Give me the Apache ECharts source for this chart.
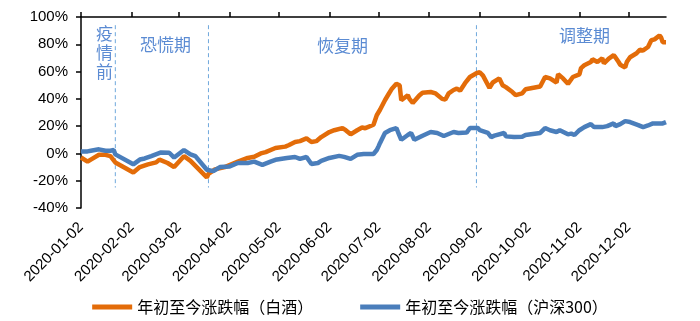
<!DOCTYPE html>
<html><head><meta charset="utf-8">
<script src="https://cdn.jsdelivr.net/npm/echarts/dist/echarts.min.js"></script>
<style>html,body{margin:0;padding:0;background:#fff}#c{width:700px;height:321px}</style>
</head><body><div id="c"></div><script>
// ---- data ----
var tickLabels = ['2020-01-02','2020-02-02','2020-03-02','2020-04-02','2020-05-02','2020-06-02',
  '2020-07-02','2020-08-02','2020-09-02','2020-10-02','2020-11-02','2020-12-02'];
var axisStart = '2020-01-02', axisEnd = '2020-12-25';

var baijiuName = '年初至今涨跌幅（白酒）';
var baijiuDates = ['2020-01-02','2020-01-06','2020-01-08','2020-01-13','2020-01-17','2020-01-20','2020-01-23',
 '2020-02-03','2020-02-07','2020-02-12','2020-02-17','2020-02-19','2020-02-24','2020-02-28',
 '2020-03-05','2020-03-09','2020-03-10','2020-03-19','2020-03-20','2020-03-24','2020-03-30',
 '2020-04-07','2020-04-13','2020-04-17','2020-04-21','2020-04-24','2020-04-30',
 '2020-05-06','2020-05-08','2020-05-12','2020-05-15','2020-05-19','2020-05-22','2020-05-25','2020-05-28',
 '2020-06-02','2020-06-05','2020-06-10','2020-06-12','2020-06-15','2020-06-19','2020-06-22','2020-06-24','2020-06-29','2020-06-30',
 '2020-07-01','2020-07-03','2020-07-06','2020-07-08','2020-07-10','2020-07-13','2020-07-14','2020-07-15','2020-07-16','2020-07-17',
 '2020-07-20','2020-07-21','2020-07-23','2020-07-27','2020-07-29',
 '2020-08-03','2020-08-06','2020-08-10','2020-08-12','2020-08-13','2020-08-14','2020-08-17','2020-08-19','2020-08-21','2020-08-24','2020-08-27','2020-08-31',
 '2020-09-02','2020-09-04','2020-09-08','2020-09-10','2020-09-14','2020-09-16','2020-09-18','2020-09-22','2020-09-24','2020-09-28','2020-09-30',
 '2020-10-09','2020-10-12','2020-10-13','2020-10-15','2020-10-16','2020-10-19','2020-10-20','2020-10-23','2020-10-26','2020-10-29','2020-10-30',
 '2020-11-02','2020-11-03','2020-11-05','2020-11-09','2020-11-10','2020-11-13','2020-11-16','2020-11-17','2020-11-20','2020-11-23','2020-11-24','2020-11-26','2020-11-27','2020-11-30',
 '2020-12-01','2020-12-03','2020-12-07','2020-12-09','2020-12-11','2020-12-14','2020-12-16','2020-12-18','2020-12-21','2020-12-22','2020-12-23','2020-12-24','2020-12-25'];
var baijiuValues = [-3,-6,-4.5,-1,-1,-2,-6.6,
 -14,-10,-8,-6.6,-4.5,-7,-10,
 -2,-5.5,-4.5,-17.6,-15,-11.7,-10,
 -6,-3.3,-2.5,0,1,4,
 5,6,8.4,9,11,8.4,9,12,
 15.7,17,18.6,17,14,17,19,18.5,21,21,
 28,32,39,43,47,51,52,50,39,39.5,
 42.7,40,37,42.5,44.5,
 45,44,40,39.5,40.5,44,46.5,47.5,46,51.5,56,58.8,
 59.5,57,48,52,55,50,48.6,45,42.7,44,47,
 49,56,57,55,53.7,52,58,55,51,56,56.5,
 58,62.5,64.6,67,69,67,69.8,66,69.5,72,70.5,67,65,63,
 67,70.5,73.4,76,75.5,78,83,83.6,86.5,85,81.5,82,81.5];

var hs300Name = '年初至今涨跌幅（沪深300）';
var hs300Dates = ['2020-01-02','2020-01-06','2020-01-08','2020-01-13','2020-01-17','2020-01-20','2020-01-22','2020-01-23',
 '2020-02-03','2020-02-07','2020-02-10','2020-02-14','2020-02-20','2020-02-25','2020-02-28',
 '2020-03-05','2020-03-09','2020-03-12','2020-03-19','2020-03-23','2020-03-27',
 '2020-04-02','2020-04-07','2020-04-13','2020-04-17','2020-04-22','2020-04-27','2020-04-30',
 '2020-05-07','2020-05-12','2020-05-15','2020-05-19','2020-05-22','2020-05-26','2020-05-28',
 '2020-06-02','2020-06-08','2020-06-11','2020-06-15','2020-06-19','2020-06-23','2020-06-29','2020-06-30',
 '2020-07-01','2020-07-02','2020-07-03','2020-07-06','2020-07-09','2020-07-13','2020-07-14','2020-07-16','2020-07-20','2020-07-22','2020-07-24','2020-07-29',
 '2020-08-03','2020-08-07','2020-08-11','2020-08-17','2020-08-20','2020-08-25','2020-08-27',
 '2020-09-01','2020-09-02','2020-09-07','2020-09-09','2020-09-11','2020-09-17','2020-09-18','2020-09-23','2020-09-28','2020-09-30',
 '2020-10-09','2020-10-12','2020-10-15','2020-10-19','2020-10-21','2020-10-26','2020-10-28','2020-10-30',
 '2020-11-02','2020-11-05','2020-11-09','2020-11-11','2020-11-16','2020-11-19','2020-11-23','2020-11-24','2020-11-27','2020-11-30',
 '2020-12-03','2020-12-08','2020-12-11','2020-12-14','2020-12-17','2020-12-21','2020-12-22','2020-12-23','2020-12-25'];
var hs300Values = [1.5,1.5,2,3,2,2,2.5,-0.7,
 -8,-4.5,-3.7,-2,0.7,0.5,-3,
 2.5,-0.7,-2,-12,-13,-10,
 -9.5,-7,-7,-6,-8.4,-6,-4.7,
 -3.3,-2.6,-4,-2.6,-7.7,-7,-5.5,
 -3.3,-1.8,-2.5,-4,-1,-0.4,-0.4,-1,
 2.5,5,7.7,15,17,18.6,15.7,10,13.5,15,10,13,
 15.7,15,12.8,15.7,15,15.3,18.6,
 18.6,17,15,12,13,15,12.5,12,12.3,13.5,
 15,18.6,17,15.7,17,14,14.5,13.5,
 17,19.3,21.5,19.3,19.3,20,22,20,21.5,23.7,
 23,20.8,19.3,20.5,22,22,20.8,22,23];

var phaseDates = ['2020-01-23','2020-03-20','2020-08-31'];
var phaseTop = 94, phaseBottom = -25;

// ---- build calendar categories ----
var cats = [];
(function(){
  var d = new Date(axisStart + 'T00:00:00Z'), end = new Date(axisEnd + 'T00:00:00Z');
  while (d <= end) { cats.push(d.toISOString().slice(0,10)); d = new Date(d.getTime() + 86400000); }
})();
function isTick(i, v){ return tickLabels.indexOf(v) >= 0; }

var chart = echarts.init(document.getElementById('c'), null, {renderer:'canvas'});
var annColor = '#5b8bd3';
var cjk = '"Noto Sans CJK SC", sans-serif';

var series = [];
phaseDates.forEach(function(d, k){
  series.push({type:'line', name:'phase'+k, silent:true, symbol:'none', z:1,
    data:[[d, phaseTop],[d, phaseBottom]],
    lineStyle:{color:'#6fa8dc', width:1, type:[4,3]}});
});
series.push({type:'line', name: baijiuName, symbol:'none', showSymbol:false, z:3,
  data: baijiuDates.map(function(d,i){return [d, baijiuValues[i]];}),
  lineStyle:{color:'#E36C09', width:4.5}, itemStyle:{color:'#E36C09'}});
series.push({type:'line', name: hs300Name, symbol:'none', showSymbol:false, z:3,
  data: hs300Dates.map(function(d,i){return [d, hs300Values[i]];}),
  lineStyle:{color:'#4A7EBB', width:4.5}, itemStyle:{color:'#4A7EBB'}});

chart.setOption({
  animation:false,
  backgroundColor:'#fff',
  grid:{left:81, right:34, top:17, bottom:113},
  legend:{data:[baijiuName, hs300Name], left:'center', top:294, icon:'rect',
    itemWidth:40, itemHeight:5, itemGap:47,
    textStyle:{fontFamily:cjk, fontSize:16, color:'#000'}},
  xAxis:[
    {type:'category', data:cats, boundaryGap:false, position:'bottom',
     axisLine:{show:false}, axisTick:{show:false}, splitLine:{show:false},
     axisLabel:{interval:isTick, rotate:45, margin:17, fontSize:15, color:'#000',
       fontFamily:'"Liberation Sans", Arial, sans-serif'}},
    {type:'category', data:cats, boundaryGap:false, position:'top',
     axisLine:{show:true, onZero:true, lineStyle:{color:'#000', width:1.5}},
     axisTick:{show:true, interval:isTick, length:5, lineStyle:{color:'#000', width:1.5}},
     axisLabel:{show:false}, splitLine:{show:false}}
  ],
  yAxis:{type:'value', min:-40, max:100, interval:20,
    axisLine:{show:true, lineStyle:{color:'#000', width:1.5}},
    axisTick:{show:true, length:5, lineStyle:{color:'#000', width:1.5}},
    splitLine:{show:false},
    axisLabel:{formatter:'{value}%', margin:13, fontSize:15, color:'#000',
      fontFamily:'"Liberation Sans", Arial, sans-serif'}},
  series: series,
  graphic:[
    {type:'text', left:96, top:24, style:{text:'疫\n情\n前', font:'17px '+cjk, fill:annColor, lineHeight:19}},
    {type:'text', left:140, top:36, style:{text:'恐慌期', font:'17px '+cjk, fill:annColor}},
    {type:'text', left:317, top:37, style:{text:'恢复期', font:'17px '+cjk, fill:annColor}},
    {type:'text', left:559, top:27, style:{text:'调整期', font:'17px '+cjk, fill:annColor}}
  ]
});
</script></body></html>
